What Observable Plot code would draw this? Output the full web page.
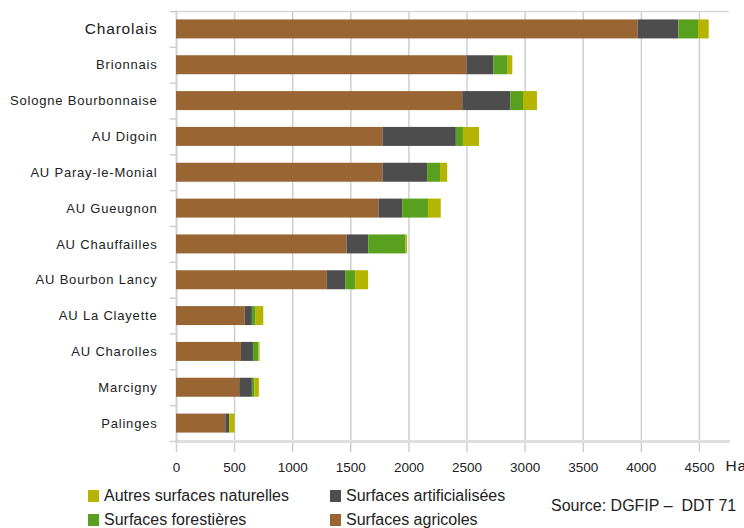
<!DOCTYPE html>
<html>
<head>
<meta charset="utf-8">
<script src="https://cdn.jsdelivr.net/npm/d3@7"></script>
<script src="https://cdn.jsdelivr.net/npm/@observablehq/plot@0.6"></script>
<style>
  body { margin: 0; background: #fff; font-family: "Liberation Sans", Arial, sans-serif; }
  #wrap { position: relative; width: 744px; height: 528px; overflow: hidden; }
  .leg { position: absolute; font-size: 16px; letter-spacing: 0px; color: #222; white-space: nowrap; }
  .sw { display: inline-block; width: 11px; height: 12px; margin-right: 5px; vertical-align: -1px; }
  #source { position: absolute; left: 551px; top: 497px; font-size: 16px; color: #222; white-space: nowrap; }
  #chart g[aria-label="text"] text { letter-spacing: 0.8px; }
</style>
</head>
<body>
<div id="wrap">
  <div id="chart"></div>
  <div class="leg" style="left:88px; top:487px;"><span class="sw" style="background:#b5b400"></span>Autres surfaces naturelles</div>
  <div class="leg" style="left:330px; top:487px;"><span class="sw" style="background:#4d4d4d"></span>Surfaces artificialisées</div>
  <div class="leg" style="left:88px; top:511px;"><span class="sw" style="background:#58a01d"></span>Surfaces forestières</div>
  <div class="leg" style="left:330px; top:511px;"><span class="sw" style="background:#996633"></span>Surfaces agricoles</div>
  <div id="source">Source: DGFIP –&nbsp; DDT 71</div>
</div>
<script>
const categories = ["Charolais", "Brionnais", "Sologne Bourbonnaise", "AU Digoin", "AU Paray-le-Monial",
  "AU Gueugnon", "AU Chauffailles", "AU Bourbon Lancy", "AU La Clayette", "AU Charolles", "Marcigny", "Palinges"];
const agricoles       = [3972, 2500, 2463, 1776, 1776, 1743, 1468, 1298, 590, 559, 544, 424];
const artificialisees = [351, 231, 413, 632, 385, 203, 187, 158, 63, 103, 109, 32];
const forestieres     = [169, 123, 110, 61, 111, 222, 320, 86, 32, 46, 20, 2];
const autres          = [92, 40, 120, 139, 62, 110, 13, 111, 66, 11, 40, 46];
const types = ["Surfaces agricoles", "Surfaces artificialisées", "Surfaces forestières", "Autres surfaces naturelles"];
const colors = ["#996633", "#4d4d4d", "#58a01d", "#b5b400"];
const xTicks = [0, 500, 1000, 1500, 2000, 2500, 3000, 3500, 4000, 4500];

const series = [agricoles, artificialisees, forestieres, autres];
const data = [];
categories.forEach((c, i) => series.forEach((s, j) => data.push({cat: c, type: types[j], value: s[i]})));

const chart = Plot.plot({
  width: 744,
  height: 480,
  marginTop: 11,
  marginBottom: 39,
  marginLeft: 176,
  marginRight: 16,
  style: {fontFamily: "Liberation Sans, Arial, sans-serif", fontSize: "13px", color: "#222"},
  x: {domain: [0, 4750]},
  y: {domain: categories, paddingInner: 0.47, paddingOuter: 0.235, round: false, axis: null},
  color: {domain: types, range: colors},
  marks: [
    Plot.gridX(xTicks, {stroke: "#cfcfcf", strokeOpacity: 1, strokeWidth: 1.5}),
    Plot.axisX(xTicks, {tickSize: 11, tickPadding: 10, stroke: "#cfcfcf", strokeWidth: 1.5, fill: "#222",
      fontSize: 13.5, label: null, tickFormat: d => String(d)}),
    Plot.frame({anchor: "top", stroke: "#d8d8d8", strokeWidth: 1.5}),
    Plot.frame({anchor: "bottom", stroke: "#dedede", strokeWidth: 3}),
    Plot.frame({anchor: "left", stroke: "#cfcfcf", strokeWidth: 1.5}),
    Plot.ruleY(categories, {y: d => d, x1: -55, x2: 0, dy: 17.9, stroke: "#cfcfcf", strokeWidth: 1.5}),
    Plot.ruleY(categories.slice(0, 1), {y: d => d, x1: -55, x2: 0, dy: -17.9, stroke: "#cfcfcf", strokeWidth: 1.5}),
    Plot.barX(data, {x: "value", y: "cat", fill: "type", order: types}),
    Plot.text(categories, {y: d => d, x: 0, dx: -19, text: d => d, textAnchor: "end",
      fontSize: d => d === "Charolais" ? 15.5 : 13, fill: "#222"}),
    Plot.text(["Ha"], {frameAnchor: "bottom-right", dx: -3, dy: 29, text: d => d, textAnchor: "start", fontSize: 15.5, fill: "#222"})
  ]
});
document.getElementById("chart").appendChild(chart);
</script>
</body>
</html>
